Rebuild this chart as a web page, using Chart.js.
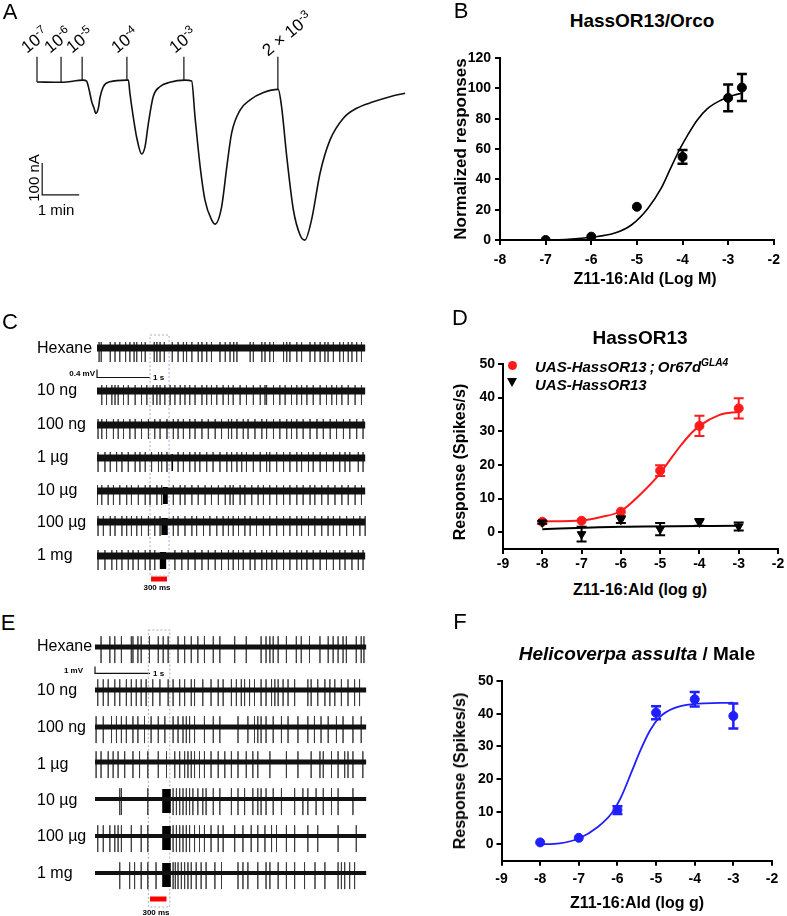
<!DOCTYPE html>
<html><head><meta charset="utf-8">
<script src="https://cdn.jsdelivr.net/npm/chart.js@4.4.1/dist/chart.umd.min.js"></script>
<style>
html,body{margin:0;padding:0;background:#fff;}
body{width:787px;height:916px;position:relative;overflow:hidden;font-family:"Liberation Sans",Arial,sans-serif;color:#000;}
canvas{position:absolute;}
.t{position:absolute;white-space:nowrap;line-height:1;}
.t sup{font-size:0.68em;vertical-align:0.55em;line-height:0;}
</style></head><body>
<script>
// ---------------- DATA ----------------
// Panel A: current trace (time in min, current in nA)
const A_TIME_MIN = [0,0.67,1.25,1.34,1.41,1.48,1.54,1.59,1.66,1.70,1.79,1.97,2.42,2.47,2.51,2.60,2.69,2.83,2.92,3.01,3.14,3.32,3.59,4.00,4.18,4.27,4.41,4.54,4.72,4.81,4.99,5.13,5.26,5.49,5.76,6.12,6.52,6.61,6.75,6.93,7.11,7.24,7.42,7.65,7.92,8.28,8.64,9.09,9.54,9.95];
const A_CURRENT_NA = [0,-1,6,3,-25,-62,-81,-98,-81,-50,-15,1,6,6,-34,-108,-171,-225,-202,-129,-46,-15,-1,6,3,-108,-265,-369,-431,-444,-390,-265,-160,-88,-56,-33,-23,-77,-233,-400,-478,-494,-431,-285,-181,-113,-82,-62,-46,-35];
const A_STIM_TIME_MIN = [0,0.65,1.22,2.43,3.97,6.51];
const A_STIM_BASE_NA = [0,-1,6,6,6,-22];
const A_STIM_LABELS = ['10<sup>-7</sup>','10<sup>-6</sup>','10<sup>-5</sup>','10<sup>-4</sup>','10<sup>-3</sup>','2 &#215; 10<sup>-3</sup>'];

// Panel B
const B_LOGM = [-7,-6,-5,-4,-3,-2.699];
const B_RESP = [0,2.2,21.9,54.8,93.7,100.5];
const B_ERR = [0,0,0,4.6,8.8,8.9];
const B_FIT_X = [-7,-6.5,-6,-5.5,-5.12,-4.76,-4.47,-4.25,-4.04,-3.89,-3.68,-3.46,-3.17,-2.88,-2.7];
const B_FIT_Y = [0,0.5,1.8,4.4,9.9,20.8,34,48,61,69,79,86.5,92,95.4,96.8];
const B_XTICKS = [-8,-2];
const B_YTICKS = [0,120,20];

// Panel D
const D_LOGG = [-8,-7,-6,-5,-4,-3];
const D_RED = [3.1,3.4,6.1,18.3,31.6,36.8];
const D_RED_ERR = [0,0,0,1.6,3.0,3.0];
const D_BLACK = [2.9,-0.6,3.7,0.9,2.9,1.7];
const D_BLACK_ERR = [0.4,2.2,1.0,1.8,1.0,1.2];
const D_RED_FIT_X = [-8,-7,-6.5,-6,-5.5,-5,-4.75,-4.5,-4.25,-4,-3.5,-3];
const D_RED_FIT_Y = [3.2,3.5,4.5,6.3,11.3,17.5,21.5,25.4,28.9,31.6,34.8,35.8];
const D_BLACK_FIT_X = [-8,-6,-3];
const D_BLACK_FIT_Y = [0.9,1.6,1.9];

// Panel F
const F_LOGG = [-8,-7,-6,-5,-4,-3];
const F_RESP = [0.6,2.0,10.5,40.3,44.4,39.3];
const F_ERR = [0,0,1.2,2.0,2.2,3.8];
const F_FIT_X = [-8,-7.5,-7,-6.5,-6.15,-5.9,-5.65,-5.4,-5.15,-4.9,-4.55,-4.05,-3];
const F_FIT_Y = [0,0.3,1.8,5.4,9.5,14.6,21.7,28.9,35,39,41.6,42.9,43.4];

// Panel C: spike times (s)
const C_ROW_LABELS = ['Hexane','10 ng','100 ng','1 &#181;g','10 &#181;g','100 &#181;g','1 mg'];
const C_HEXANE = [0.04,0.08,0.25,0.34,0.43,0.54,0.62,0.70,0.75,0.84,0.91,1.08,1.13,1.19,1.27,1.42,1.53,1.63,1.69,1.79,1.91,1.98,2.07,2.16,2.32,2.42,2.51,2.58,2.64,2.89,2.95,3.11,3.17,3.26,3.33,3.52,3.58,3.64,3.77,3.86,4.02,4.11,4.21,4.30,4.36,4.46,4.58,4.65,4.74,4.81,4.90,4.99];
const C_10NG = [0.09,0.18,0.28,0.34,0.40,0.50,0.59,0.72,0.84,0.94,1.06,1.13,1.19,1.28,1.38,1.47,1.57,1.66,1.75,1.85,1.98,2.07,2.16,2.26,2.38,2.48,2.57,2.70,2.82,2.95,3.08,3.17,3.20,3.33,3.45,3.55,3.67,3.77,3.86,3.96,4.08,4.21,4.33,4.43,4.52,4.62,4.74,4.87,4.99];
const C_100NG = [0.02,0.09,0.18,0.31,0.40,0.50,0.62,0.72,0.84,0.97,1.09,1.19,1.32,1.44,1.53,1.63,1.75,1.85,1.98,2.10,2.23,2.35,2.48,2.54,2.64,2.76,2.85,2.98,3.11,3.20,3.33,3.45,3.58,3.67,3.77,3.89,4.02,4.15,4.27,4.40,4.52,4.65,4.77,4.90,5.02];
const C_1UG = [0.02,0.15,0.25,0.37,0.47,0.59,0.72,0.81,0.91,1.03,1.16,1.22,1.32,1.53,1.63,1.75,1.85,1.94,2.07,2.19,2.32,2.45,2.54,2.64,2.73,2.82,2.95,3.08,3.20,3.26,3.39,3.52,3.64,3.77,3.86,3.99,4.08,4.21,4.33,4.46,4.58,4.68,4.77,4.93,5.02];
const C_10UG = [0.01,0.09,0.21,0.31,0.43,0.56,0.65,0.78,0.91,1.00,1.13,1.22,1.44,1.57,1.66,1.79,1.91,2.04,2.16,2.29,2.42,2.51,2.57,2.70,2.79,2.92,3.04,3.14,3.26,3.39,3.52,3.64,3.77,3.89,4.02,4.11,4.24,4.36,4.49,4.62,4.74,4.87,4.99];
const C_100UG = [0.02,0.12,0.25,0.34,0.47,0.56,0.65,0.75,0.84,0.97,1.09,1.19,1.44,1.53,1.66,1.79,1.88,2.01,2.13,2.26,2.38,2.48,2.57,2.67,2.79,2.89,3.01,3.14,3.26,3.39,3.52,3.64,3.77,3.86,3.99,4.11,4.24,4.36,4.46,4.58,4.71,4.84,4.96,5.06];
const C_1MG = [0.02,0.15,0.28,0.37,0.47,0.59,0.68,0.78,0.91,1.00,1.09,1.47,1.60,1.72,1.85,1.98,2.10,2.23,2.35,2.48,2.57,2.67,2.76,2.89,2.98,3.11,3.20,3.30,3.39,3.52,3.64,3.77,3.86,3.96,4.08,4.21,4.33,4.46,4.58,4.68,4.81,4.93,5.02];
const C_RESP_1UG = [1.42];
const C_RESP_10UG = [1.26,1.29,1.32];
const C_RESP_100UG = [1.23,1.26,1.29,1.32];
const C_RESP_1MG = [1.20,1.23,1.26,1.29];
const C_SPIKE_MV = [0.3,-0.7];      // typical up / down spike amplitude
const C_STIM_S = [1.02,1.32];
const C_WINDOW_S = [1.0,1.36];
const C_TRACE_END_S = 5.06;

// Panel E: spike times (s)
const E_HEXANE = [0.11,0.27,0.36,0.48,0.66,0.69,0.78,0.84,0.99,1.15,1.24,1.33,1.51,1.63,1.75,1.87,1.99,2.15,2.27,2.54,2.75,3.02,3.11,3.18,3.24,3.33,3.48,3.66,3.75,3.90,4.09,4.24,4.33,4.42,4.51,4.57,4.75,4.84,4.89];
const E_10NG = [0.05,0.15,0.24,0.36,0.45,0.57,0.66,0.75,0.84,0.93,1.05,1.18,1.33,1.42,1.54,1.63,1.75,1.81,1.96,2.11,2.24,2.33,2.48,2.57,2.66,2.72,2.81,2.90,3.02,3.11,3.21,3.27,3.33,3.42,3.51,3.63,3.87,3.93,4.05,4.18,4.27,4.36,4.48,4.60,4.72,4.81];
const E_100NG = [0.02,0.15,0.30,0.39,0.48,0.57,0.69,0.78,0.90,1.02,1.15,1.27,1.42,1.51,1.60,1.66,1.72,1.81,1.99,2.15,2.27,2.60,2.78,2.90,2.96,3.02,3.11,3.24,3.39,3.51,3.69,3.87,3.99,4.11,4.24,4.39,4.51,4.69,4.84];
const E_1UG = [0.02,0.11,0.24,0.33,0.42,0.54,0.69,0.81,0.96,1.15,1.30,1.45,1.54,1.63,1.69,1.75,1.81,1.90,1.99,2.11,2.24,2.36,2.48,2.60,2.75,2.87,2.96,3.18,3.48,3.69,3.93,4.09,4.15,4.30,4.42,4.54,4.60,4.69,4.87];
const E_10UG = [0.45,0.48,0.96,1.42,1.48,1.54,1.60,1.66,1.72,1.78,1.87,1.96,2.02,2.15,2.27,2.48,2.60,2.72,2.87,2.96,3.02,3.11,3.24,3.39,3.63,3.78,3.87,4.02,4.15,4.30,4.42,4.69];
const E_100UG = [0.05,0.15,0.27,0.36,0.42,0.48,0.66,0.84,0.96,1.42,1.48,1.54,1.60,1.66,1.72,1.81,1.90,1.99,2.11,2.24,2.33,2.54,2.69,2.84,2.96,3.09,3.21,3.30,3.48,3.63,3.87,4.05,4.42,4.75];
const E_1MG = [0.45,0.63,0.72,0.84,0.96,1.11,1.42,1.46,1.51,1.57,1.63,1.69,1.75,1.84,1.93,2.02,2.18,2.30,2.60,2.69,2.78,2.96,3.11,3.18,3.33,3.48,3.63,3.81,4.00,4.18,4.42,4.48,4.54,4.63,4.72];
const E_RESP_10UG = [1.24,1.26,1.28,1.30,1.32,1.34,1.36];
const E_RESP_100UG = [1.24,1.26,1.28,1.30,1.32,1.34,1.36];
const E_RESP_1MG = [1.24,1.26,1.28,1.30,1.32,1.34,1.36];
const E_SPIKE_MV = [1.6,-2.4];
const E_STIM_S = [1.0,1.30];
const E_WINDOW_S = [0.97,1.36];
const E_TRACE_END_S = 4.93;

// ---------------- LAYOUT ----------------
const FONT = '"Liberation Sans", Arial, sans-serif';
Chart.defaults.font.family = FONT;
Chart.defaults.color = '#000';

function mkCanvas(l,t,w,h){
  const c=document.createElement('canvas');
  c.width=w;c.height=h;c.style.left=l+'px';c.style.top=t+'px';c.style.width=w+'px';c.style.height=h+'px';
  document.body.appendChild(c);return c;
}
function txt(html,x,y,o={}){
  const d=document.createElement('div');d.className='t';d.innerHTML=html;
  d.style.left=x+'px';d.style.top=y+'px';d.style.fontSize=(o.size||16)+'px';
  if(o.bold)d.style.fontWeight='bold';
  if(o.italic)d.style.fontStyle='italic';
  if(o.color)d.style.color=o.color;
  if(o.anchorBL){d.style.transformOrigin='left bottom';d.style.transform='translate(0,-100%) rotate('+o.rot+'deg)';}
  else{
    const tx=o.align==='center'?'-50%':o.align==='right'?'-100%':'0';
    d.style.transform='translate('+tx+',-50%)'+(o.rot?' rotate('+o.rot+'deg)':'');
  }
  document.body.appendChild(d);return d;
}
const zip=(xs,ys)=>xs.map((x,i)=>({x,y:ys[i]}));
const hidden={display:false};

// ---------- Panel A ----------
(function(){
  const box={l:0,t:0,w:420,h:250};
  // x px = 37 + 37*t ; y px = 82 - 0.32*I
  const xmin=-1, xmax=(box.w-37)/37;
  const ymax=82/0.32, ymin=(82-box.h)/0.32;
  const ds=[];
  ds.push({data:zip(A_TIME_MIN,A_CURRENT_NA),showLine:true,borderColor:'#111',borderWidth:1.6,pointRadius:0,cubicInterpolationMode:'monotone'});
  const TOP=79;
  A_STIM_TIME_MIN.forEach((t,i)=>{
    ds.push({data:[{x:t,y:A_STIM_BASE_NA[i]},{x:t,y:TOP}],showLine:true,borderColor:'#111',borderWidth:1.2,pointRadius:0});
  });
  // scale bar: 100 nA x 1 min
  ds.push({data:[{x:0.14,y:-253},{x:0.14,y:-353},{x:1.14,y:-353}],showLine:true,borderColor:'#111',borderWidth:1.2,pointRadius:0});
  new Chart(mkCanvas(box.l,box.t,box.w,box.h),{type:'scatter',data:{datasets:ds},
    options:{responsive:false,animation:false,devicePixelRatio:1,plugins:{legend:hidden,tooltip:{enabled:false}},
      scales:{x:{type:'linear',display:false,min:xmin,max:xmax},y:{type:'linear',display:false,min:ymin,max:ymax}}}});
  const lx=[29,52,74,119,177,270], ly=[56,56,56,56,56,59];
  A_STIM_LABELS.forEach((s,i)=>txt(s,lx[i],ly[i],{size:17,rot:-39,anchorBL:true}));
  txt('100 nA',33,178,{size:15,align:'center',rot:-90});
  txt('1 min',56,209,{size:15,align:'center'});
  txt('A',10,12,{size:22,align:'center'});
})();

// ---------- Dose-response helper ----------
const errorBars={id:'errorBars',afterDatasetsDraw(chart){
  const ctx=chart.ctx, ys=chart.scales.y;
  chart.data.datasets.forEach((ds,i)=>{
    if(!ds.errors)return;
    const meta=chart.getDatasetMeta(i);
    ctx.save();ctx.strokeStyle=ds.errColor||ds.borderColor;ctx.lineWidth=ds.errWidth||2;
    meta.data.forEach((pt,j)=>{
      const e=ds.errors[j]; if(!e)return;
      const v=ds.data[j].y, y1=ys.getPixelForValue(v+e), y2=ys.getPixelForValue(v-e), x=pt.x, cw=5;
      ctx.beginPath();ctx.moveTo(x,y1);ctx.lineTo(x,y2);
      ctx.moveTo(x-cw,y1);ctx.lineTo(x+cw,y1);ctx.moveTo(x-cw,y2);ctx.lineTo(x+cw,y2);ctx.stroke();
    });
    ctx.restore();
  });
}};
function doseChart(box,area,xr,yr,datasets,xPad,yPad){
  const axisCommon={
    grid:{display:true,drawOnChartArea:false,drawTicks:true,tickLength:5,color:'#000',tickColor:'#000',lineWidth:2,tickWidth:2},
    border:{display:true,color:'#000',width:2}
  };
  return new Chart(mkCanvas(box.l,box.t,box.w,box.h),{type:'scatter',data:{datasets},
    options:{responsive:false,animation:false,devicePixelRatio:1,
      layout:{padding:{top:area.t-box.t,right:box.l+box.w-area.r,left:0,bottom:0}},
      plugins:{legend:hidden,tooltip:{enabled:false}},
      scales:{
        x:Object.assign({type:'linear',min:xr[0],max:xr[1],
          ticks:{stepSize:1,color:'#000',font:{size:14,weight:'bold'},padding:xPad,maxRotation:0,autoSkip:false},
          afterFit:s=>{s.height=box.t+box.h-area.b;}},axisCommon),
        y:Object.assign({type:'linear',min:yr[0],max:yr[1],
          ticks:{stepSize:yr[2],color:'#000',font:{size:14,weight:'bold'},padding:yPad},
          afterBuildTicks:s=>{s.ticks=s.ticks.filter(t=>t.value>=0);},
          afterFit:s=>{s.width=area.l-box.l;}},axisCommon)
      }},
    plugins:[errorBars]});
}

// ---------- Panel B ----------
doseChart({l:420,t:40,w:367,h:240},{l:500,r:778,t:58,b:240},B_XTICKS,[B_YTICKS[0],B_YTICKS[1],B_YTICKS[2]],[
  {data:zip(B_FIT_X,B_FIT_Y),showLine:true,borderColor:'#000',borderWidth:1.6,pointRadius:0,cubicInterpolationMode:'monotone'},
  {data:zip(B_LOGM,B_RESP),pointRadius:4.5,pointStyle:'circle',backgroundColor:'#000',borderColor:'#000',errors:B_ERR,errWidth:2.5}
],7,4);
txt('B',461,11,{size:22,align:'center'});
txt('HassOR13/Orco',642,20,{size:19,bold:true,align:'center'});
txt('Z11-16:Ald (Log M)',645,279,{size:16,bold:true,align:'center'});
txt('Normalized responses',460,149,{size:17,bold:true,align:'center',rot:-90});

// ---------- Panel D ----------
doseChart({l:420,t:340,w:367,h:240},{l:503,r:778,t:364,b:549},[-9,-2],[-5,50,10],[
  {data:zip(D_RED_FIT_X,D_RED_FIT_Y),showLine:true,borderColor:'#ff1a1a',borderWidth:2,pointRadius:0,cubicInterpolationMode:'monotone'},
  {data:zip(D_BLACK_FIT_X,D_BLACK_FIT_Y),showLine:true,borderColor:'#000',borderWidth:2,pointRadius:0,cubicInterpolationMode:'monotone'},
  {data:zip(D_LOGG,D_BLACK),pointRadius:5,pointStyle:'triangle',rotation:180,backgroundColor:'#000',borderColor:'#000',errors:D_BLACK_ERR,errWidth:2},
  {data:zip(D_LOGG,D_RED),pointRadius:4.5,pointStyle:'circle',backgroundColor:'#ff1a1a',borderColor:'#ff1a1a',errors:D_RED_ERR,errWidth:2}
],2,3);
txt('D',460,318,{size:22,align:'center'});
txt('HassOR13',640,337,{size:19,bold:true,align:'center'});
txt('Z11-16:Ald (log g)',640,590,{size:16,bold:true,align:'center'});
txt('Response (Spikes/s)',460,462,{size:16,bold:true,align:'center',rot:-90});
(function(){
  const c=document.createElement('div');
  c.style.cssText='position:absolute;left:507.5px;top:360.5px;width:9px;height:9px;border-radius:50%;background:#ff1a1a;';
  document.body.appendChild(c);
  const tr=document.createElement('div');
  tr.style.cssText='position:absolute;left:507px;top:378px;width:0;height:0;border-left:5px solid transparent;border-right:5px solid transparent;border-top:9px solid #000;';
  document.body.appendChild(tr);
  txt('UAS-HassOR13<span style="margin:0 3px">;</span>Or67d<sup>GLA4</sup>',535,366,{size:15,bold:true,italic:true});
  txt('UAS-HassOR13',535,384,{size:15,bold:true,italic:true});
})();

// ---------- Panel F ----------
doseChart({l:420,t:660,w:367,h:240},{l:501.5,r:772,t:681,b:860.7},[-9,-2],[-5,50,10],[
  {data:zip(F_FIT_X,F_FIT_Y),showLine:true,borderColor:'#1f1fff',borderWidth:1.8,pointRadius:0,cubicInterpolationMode:'monotone'},
  {data:zip(F_LOGG,F_RESP),pointRadius:4.5,pointStyle:'circle',backgroundColor:'#1f1fff',borderColor:'#1f1fff',errors:F_ERR,errWidth:2.5}
],5,3);
txt('F',460,622,{size:22,align:'center'});
txt('<i>Helicoverpa assulta</i> / Male',637,653,{size:19,bold:true,align:'center'});
txt('Z11-16:Ald (log g)',637,903,{size:16,bold:true,align:'center'});
txt('Response (Spikes/s)',460,771,{size:16,bold:true,align:'center',rot:-90});

// ---------- Spike panels ----------
function spikePts(times,base,amp,pxPerMv){
  const pts=[];
  times.forEach(t=>{pts.push({x:t,y:base},{x:t,y:base-amp[0]*pxPerMv},{x:t,y:base-amp[1]*pxPerMv},{x:t,y:base});});
  return pts;
}
function spikePanel(cfg){
  const {box,x0,pxPerS,pxPerMv,rowsY,rows,resp,amp,respAmp,respW,bandW,end,stim,win,winY,stimY,bar,labelsY}=cfg;
  const ds=[];
  rows.forEach((times,i)=>{
    const b=rowsY[i];
    ds.push({data:[{x:0,y:b},{x:end,y:b}],showLine:true,borderColor:'#111',borderWidth:bandW[i],pointRadius:0});
    ds.push({data:spikePts(times,b,amp,pxPerMv),showLine:true,borderColor:'#3c3c3c',borderWidth:1,pointRadius:0});
    if(resp[i]) ds.push({data:spikePts(resp[i],b,respAmp,pxPerMv),showLine:true,borderColor:'#000',borderWidth:respW,pointRadius:0});
  });
  // stimulus window (dotted box) and bar
  ds.push({data:[{x:win[0],y:winY[0]},{x:win[1],y:winY[0]},{x:win[1],y:winY[1]},{x:win[0],y:winY[1]},{x:win[0],y:winY[0]}],showLine:true,borderColor:'#9db2d3',borderWidth:1,borderDash:[2,2],pointRadius:0});
  ds.push({data:[{x:stim[0],y:stimY},{x:stim[1],y:stimY}],showLine:true,borderColor:'#ff0000',borderWidth:5,pointRadius:0});
  // scale bar: bar.mv vertical, 1 s horizontal
  ds.push({data:[{x:0,y:bar.y-bar.mv*pxPerMv},{x:0,y:bar.y},{x:1,y:bar.y}],showLine:true,borderColor:'#111',borderWidth:1.2,pointRadius:0});
  new Chart(mkCanvas(box.l,box.t,box.w,box.h),{type:'scatter',data:{datasets:ds},
    options:{responsive:false,animation:false,devicePixelRatio:1,plugins:{legend:hidden,tooltip:{enabled:false}},
      scales:{x:{type:'linear',display:false,min:(box.l-x0)/pxPerS,max:(box.l+box.w-x0)/pxPerS},
              y:{type:'linear',display:false,reverse:true,min:box.t,max:box.t+box.h}}}});
  C_ROW_LABELS.forEach((s,i)=>txt(s,37,labelsY[i],{size:16}));
}
spikePanel({box:{l:90,t:330,w:280,h:265},x0:97,pxPerS:53,pxPerMv:20,
  rowsY:[348,391,425,458,491,522,556],
  rows:[C_HEXANE,C_10NG,C_100NG,C_1UG,C_10UG,C_100UG,C_1MG],
  resp:[null,null,null,C_RESP_1UG,C_RESP_10UG,C_RESP_100UG,C_RESP_1MG],
  amp:C_SPIKE_MV,respAmp:[0.2,-0.65],respW:1.6,bandW:[7,7,7,7,7,7,7],end:C_TRACE_END_S,
  stim:C_STIM_S,win:C_WINDOW_S,winY:[335,576],stimY:579,bar:{y:377.5,mv:0.4},
  labelsY:[348,390,424,457,490,522,555]});
txt('C',10,322,{size:22,align:'center'});
txt('0.4 mV',95,374,{size:8,bold:true,align:'right'});
txt('1 s',153,378,{size:8,bold:true});
txt('300 ms',157,588,{size:8,bold:true,align:'center'});

spikePanel({box:{l:88,t:625,w:282,h:291},x0:95,pxPerS:55,pxPerMv:6.7,
  rowsY:[647,690,727,762,799,836,873],
  rows:[E_HEXANE,E_10NG,E_100NG,E_1UG,E_10UG,E_100UG,E_1MG],
  resp:[null,null,null,null,E_RESP_10UG,E_RESP_100UG,E_RESP_1MG],
  amp:E_SPIKE_MV,respAmp:[1.5,-2.1],respW:2,bandW:[5,5,5,5,4,4,4],end:E_TRACE_END_S,
  stim:E_STIM_S,win:E_WINDOW_S,winY:[630,907],stimY:899,bar:{y:673.3,mv:1},
  labelsY:[646,690,727,764,800,836,873]});
txt('E',8,623,{size:22,align:'center'});
txt('1 mV',83,671,{size:8,bold:true,align:'right'});
txt('1 s',153,674,{size:8,bold:true});
txt('300 ms',156,913,{size:8,bold:true,align:'center'});
</script>
</body></html>
